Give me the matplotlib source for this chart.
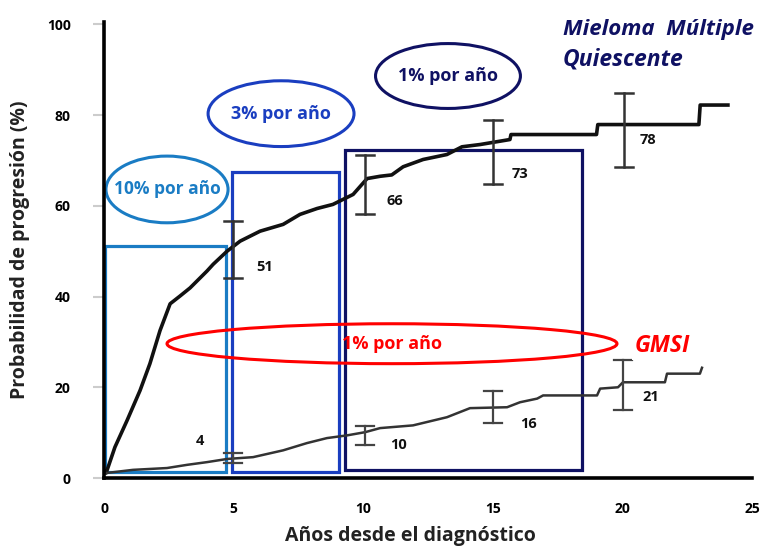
import matplotlib
matplotlib.use("Agg")
import matplotlib.pyplot as plt
from matplotlib.patches import Ellipse, Rectangle

plt.rcParams['font.family'] = ['Open Sans', 'DejaVu Sans']

# curva mieloma multiple quiescente
mm_x = [0.05, 0.08, 0.42, 0.89, 1.39, 1.77, 2.16, 2.55, 2.93, 3.32, 3.97, 4.21, 4.75, 5.25,
        6.02, 6.91, 7.56, 8.22, 8.83, 9.61, 10.15, 10.65, 11.1, 11.54, 12.31, 13.23, 13.81,
        14.51, 15.66, 15.7, 19.0, 19.05, 22.95, 23.0, 24.07]
mm_y = [1.5, 1.1, 6.8, 12.7, 19.3, 25.2, 32.5, 38.4, 40.1, 41.9, 45.6, 47.1, 50.0, 52.2,
        54.4, 55.9, 58.1, 59.4, 60.3, 62.5, 66.0, 66.5, 66.8, 68.6, 70.2, 71.3, 73.0,
        73.5, 74.6, 75.7, 75.7, 77.9, 77.9, 82.2, 82.2]

# curva GMSI
mgus_x = [0.08, 1.12, 2.43, 3.2, 3.97, 4.75, 5.75, 6.91, 7.83, 8.6, 9.38, 10.07, 10.65,
          11.92, 13.23, 14.12, 15.55, 16.05, 16.71, 16.94, 19.02, 19.14, 19.83, 20.02,
          21.64, 21.72, 22.99, 23.07]
mgus_y = [1.1, 1.8, 2.2, 2.9, 3.5, 4.2, 4.6, 6.1, 7.7, 8.8, 9.4, 10.1, 11.0,
          11.6, 13.4, 15.4, 15.6, 16.7, 17.5, 18.2, 18.2, 19.7, 20.0, 21.1,
          21.1, 23.0, 23.0, 24.3]

# intervalos de confianza
mm_err_x = [4.98, 10.07, 15.0, 20.06]
mm_err_lo = [44.1, 58.1, 64.9, 68.6]
mm_err_hi = [56.6, 71.3, 78.9, 84.9]
mm_labels = ["51", "66", "73", "78"]
mm_label_pos = [(6.21, 46.5), (11.23, 61), (16.05, 66.9), (20.99, 74.6)]

mgus_err_x = [4.98, 10.07, 15.0, 20.02]
mgus_err_lo = [3.3, 7.2, 12.1, 15.1]
mgus_err_hi = [5.5, 11.4, 19.1, 26.1]
mgus_labels = ["4", "10", "16", "21"]
mgus_label_pos = [(3.7, 8.1), (11.38, 7.2), (16.36, 11.8), (21.1, 17.8)]

light_blue = '#1a7cc4'
blue = '#1a3ec0'
navy = '#0f1163'
red = '#ff0000'

fig = plt.figure(figsize=(7.61, 5.49), dpi=100)
ax = fig.add_axes([0.1367, 0.1293, 0.8515, 0.8306])
ax.set_xlim(0, 25)
ax.set_ylim(0, 100.5)

for s in ['top', 'right']:
    ax.spines[s].set_visible(False)
ax.spines['left'].set_linewidth(2.6)
ax.spines['bottom'].set_linewidth(2.6)

ax.set_xticks([0, 5, 10, 15, 20, 25])
ax.set_yticks([0, 20, 40, 60, 80, 100])
ax.tick_params(axis='y', length=8, width=1.5, color='#cccccc', pad=16, labelsize=10)
ax.tick_params(axis='x', length=0, pad=17, labelsize=10)
for lab in ax.get_xticklabels() + ax.get_yticklabels():
    lab.set_fontweight('bold')

# cajas
ax.add_patch(Rectangle((0.04, 1.3), 4.67, 49.8, fill=False, ec=light_blue, lw=2.3))
ax.add_patch(Rectangle((4.94, 1.3), 4.13, 66.2, fill=False, ec=blue, lw=2.3))
ax.add_patch(Rectangle((9.3, 1.75), 9.14, 70.65, fill=False, ec=navy, lw=2.3))

# curvas
ax.plot(mm_x, mm_y, color='#111111', lw=2.6)
ax.plot(mgus_x, mgus_y, color='#333333', lw=1.8)

for x, lo, hi in zip(mm_err_x, mm_err_lo, mm_err_hi):
    ax.plot([x, x], [lo, hi], color='#333333', lw=1.8)
    ax.plot([x - 0.35, x + 0.35], [lo, lo], color='#333333', lw=1.8)
    ax.plot([x - 0.35, x + 0.35], [hi, hi], color='#333333', lw=1.8)
for x, lo, hi in zip(mgus_err_x, mgus_err_lo, mgus_err_hi):
    ax.plot([x, x], [lo, hi], color='#444444', lw=1.6)
    ax.plot([x - 0.35, x + 0.35], [lo, lo], color='#444444', lw=1.6)
    ax.plot([x - 0.35, x + 0.35], [hi, hi], color='#444444', lw=1.6)

for t, (x, y) in zip(mm_labels + mgus_labels, mm_label_pos + mgus_label_pos):
    ax.text(x, y, t, ha='center', va='center', fontsize=10.5, fontweight='bold', color='#111111')

# elipses
ax.add_patch(Ellipse((2.43, 63.6), 4.71, 14.7, fill=False, ec=light_blue, lw=2.2, clip_on=False))
ax.text(2.43, 63.6, "10% por año", ha='center', va='center', fontsize=12.5,
        fontweight='bold', color=light_blue)
ax.add_patch(Ellipse((6.83, 80.3), 5.63, 14.5, fill=False, ec=blue, lw=2.2))
ax.text(6.83, 80.3, "3% por año", ha='center', va='center', fontsize=13,
        fontweight='bold', color=blue)
ax.add_patch(Ellipse((13.27, 88.6), 5.59, 14.3, fill=False, ec=navy, lw=2.2))
ax.text(13.27, 88.6, "1% por año", ha='center', va='center', fontsize=13,
        fontweight='bold', color=navy)
ax.add_patch(Ellipse((11.11, 29.6), 17.36, 8.8, fill=False, ec=red, lw=2.2))
ax.text(11.11, 29.6, "1% por año", ha='center', va='center', fontsize=13,
        fontweight='bold', color=red)

ax.text(21.53, 29.2, "GMSI", ha='center', va='center', fontsize=16.5, fontweight='bold',
        style='italic', color=red, bbox=dict(fc='white', ec='none', pad=2))
ax.text(17.7, 98.9, "Mieloma  Múltiple", ha='left', va='center', fontsize=16,
        fontweight='bold', style='italic', color=navy, clip_on=False)
ax.text(17.7, 92.3, "Quiescente", ha='left', va='center', fontsize=16.5,
        fontweight='bold', style='italic', color=navy, clip_on=False)

fig.text(410 / 761, 1 - 536 / 549, "Años desde el diagnóstico", ha='center', va='center',
         fontsize=14, fontweight='bold', color='#222222')
fig.text(20 / 761, 1 - 250 / 549, "Probabilidad de progresión (%)", ha='center', va='center',
         rotation=90, fontsize=14, fontweight='bold', color='#222222')

fig.savefig("out.png", dpi=100)
